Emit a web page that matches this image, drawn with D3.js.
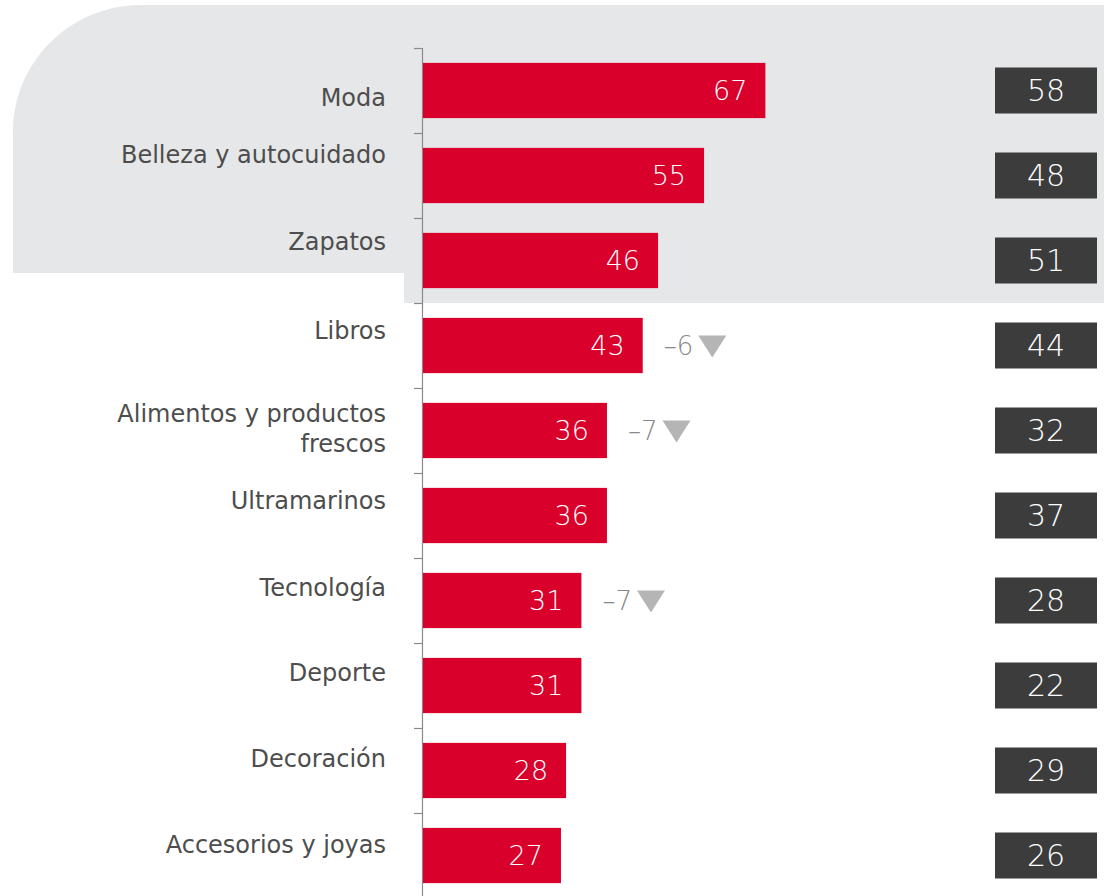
<!DOCTYPE html>
<html><head><meta charset="utf-8">
<script src="https://cdn.jsdelivr.net/npm/d3@7"></script>
<style>html,body{margin:0;padding:0;background:#fff;}svg{display:block;}</style>
</head><body>
<svg id="chart" width="1104" height="896"></svg>
<script>
const categories = ["Moda","Belleza y autocuidado","Zapatos","Libros","Alimentos y productos frescos","Ultramarinos","Tecnología","Deporte","Decoración","Accesorios y joyas"];
const labelLines = [["Moda"],["Belleza y autocuidado"],["Zapatos"],["Libros"],["Alimentos y productos","frescos"],["Ultramarinos"],["Tecnología"],["Deporte"],["Decoración"],["Accesorios y joyas"]];
const values = [67,55,46,43,36,36,31,31,28,27];
const compareValues = [58,48,51,44,32,37,28,22,29,26];
const deltas = [null,null,null,-6,-7,null,-7,null,null,null];

// layout (not data)
const LABEL_DY = [7,-21,-19,-15,-2,-15,-13,-13,-12,-11];
const svg = d3.select("#chart");
const FONT = "'DejaVu Sans', sans-serif";

// background shape
const bg = d3.path();
bg.moveTo(13, 273);
bg.lineTo(13, 133);
bg.bezierCurveTo(13, 62, 70, 5, 141, 5);
bg.lineTo(1104, 5);
bg.lineTo(1104, 303);
bg.lineTo(404, 303);
bg.lineTo(404, 273);
bg.closePath();
svg.append("path").attr("d", bg.toString()).attr("fill", "#e6e7e8");

const x = d3.scaleLinear().domain([0, 100]).range([423, 934]);
const y = d3.scaleBand().domain(categories).range([48, 898]).paddingInner(0.35).paddingOuter(0.175);
const half = (y.step() - y.bandwidth()) / 2;

// axis
const ax = svg.append("g");
ax.append("line").attr("x1", 422.5).attr("x2", 422.5).attr("y1", y(categories[0]) - half).attr("y2", 896)
  .attr("stroke", "#8a8a8a").attr("stroke-width", 1.2);
ax.selectAll("line.tick").data(categories).join("line").attr("class","tick")
  .attr("x1", 414).attr("x2", 422.5)
  .attr("y1", d => Math.round(y(d) - half) + 0.5).attr("y2", d => Math.round(y(d) - half) + 0.5)
  .attr("stroke", "#8a8a8a").attr("stroke-width", 1.2);

// bars
svg.selectAll("rect.bar").data(categories).join("rect").attr("class","bar")
  .attr("x", x(0)).attr("y", d => y(d)).attr("width", (d,i) => x(values[i]) - x(0)).attr("height", y.bandwidth())
  .attr("fill", "#d9002b");

// bar values
svg.selectAll("text.val").data(categories).join("text").attr("class","val")
  .attr("x", (d,i) => x(values[i]) - 18).attr("y", d => y(d) + y.bandwidth()/2)
  .attr("dy", "0.36em").attr("text-anchor", "end")
  .attr("font-family", FONT).attr("font-size", 27).attr("font-weight", 200).attr("fill", "#fff")
  .text((d,i) => values[i]);

// category labels
const lab = svg.selectAll("text.cat").data(categories).join("text").attr("class","cat")
  .attr("font-family", FONT).attr("font-size", 24).attr("font-weight", 400).attr("fill", "#4d4d4d")
  .attr("text-anchor", "end")
  .attr("transform", (d,i) => `translate(386,${y(d) + y.bandwidth()/2 + LABEL_DY[i]})`);
lab.each(function(d,i){
  const lines = labelLines[i];
  const t = d3.select(this);
  lines.forEach((ln, j) => {
    t.append("tspan").attr("x", 0).attr("y", (j - (lines.length-1)/2) * 30).attr("dy", "0.36em").text(ln);
  });
});

// deltas
const dg = svg.selectAll("g.delta").data(categories.map((c,i)=>({c,i})).filter(o => deltas[o.i] !== null)).join("g").attr("class","delta")
  .attr("transform", o => `translate(${x(values[o.i]) + 21},${y(o.c) + y.bandwidth()/2})`);
dg.append("text").attr("x", 0).attr("dy", "0.36em")
  .attr("font-family", FONT).attr("font-size", 26).attr("font-weight", 200).attr("fill", "#888")
  .text(o => "–" + Math.abs(deltas[o.i]))
  .each(function(o){
    const w = this.getComputedTextLength();
    d3.select(this.parentNode).append("path")
      .attr("d", `M${w+5},-10 L${w+33},-10 L${w+19},12 Z`).attr("fill", "#b5b5b5");
  });

// comparison boxes
const bx = svg.selectAll("g.box").data(categories).join("g").attr("class","box")
  .attr("transform", d => `translate(995,${y(d) + y.bandwidth()/2 - 23})`);
bx.append("rect").attr("width", 102).attr("height", 46).attr("fill", "#3c3c3c");
bx.append("text").attr("x", 51).attr("y", 23).attr("dy", "0.36em").attr("text-anchor", "middle")
  .attr("font-family", FONT).attr("font-size", 30).attr("font-weight", 200).attr("fill", "#fff")
  .text((d,i) => compareValues[i]);
</script>
</body></html>
